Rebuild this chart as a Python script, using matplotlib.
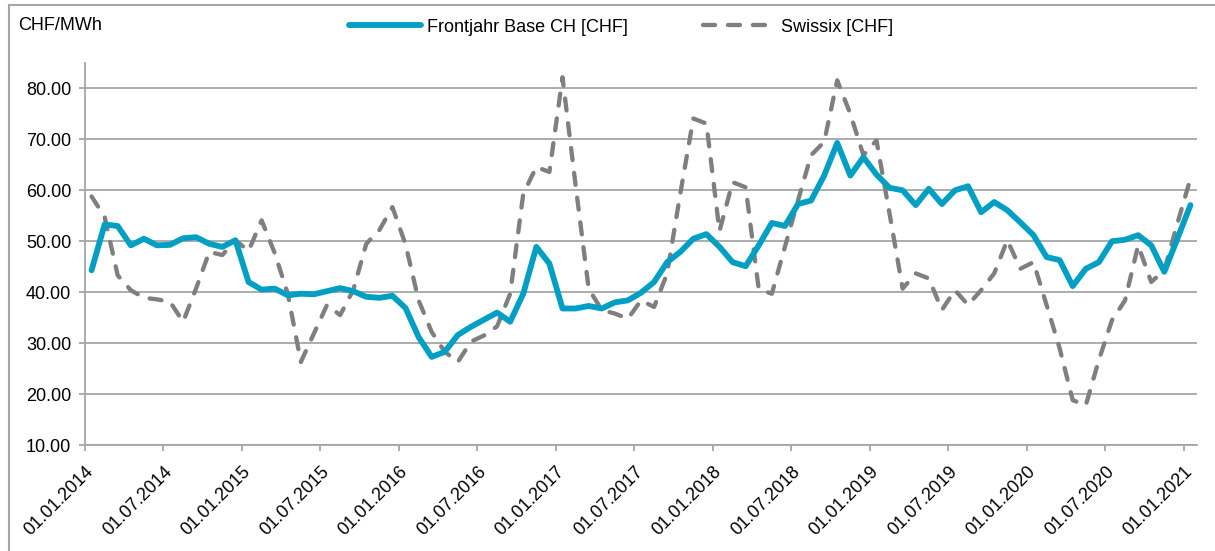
import matplotlib.pyplot as plt
import numpy as np
from matplotlib.lines import Line2D
from matplotlib.ticker import FormatStrFormatter

plt.rcParams['font.family'] = ['Liberation Sans', 'DejaVu Sans']

# monthly values, Jan 2014 .. Jan 2021 (plotted mid-month)
frontjahr = [44.3, 53.3, 53.0, 49.2, 50.5, 49.2, 49.3, 50.6, 50.8, 49.5, 48.9, 50.2,
             42.0, 40.5, 40.7, 39.4, 39.7, 39.6, 40.2, 40.8, 40.2, 39.1, 38.9, 39.3,
             36.9, 31.2, 27.3, 28.3, 31.6, 33.2, 34.6, 36.0, 34.2, 39.7, 48.9, 45.6,
             36.8, 36.8, 37.3, 36.8, 38.0, 38.4, 39.9, 42.0, 45.9, 47.9, 50.5, 51.4,
             48.9, 45.9, 45.1, 49.2, 53.6, 53.0, 57.3, 58.0, 62.9, 69.3, 62.9, 66.5,
             63.1, 60.5, 60.0, 57.1, 60.3, 57.3, 60.0, 60.8, 55.7, 57.7, 56.1, 53.7,
             51.2, 46.9, 46.3, 41.2, 44.6, 45.9, 50.0, 50.3, 51.2, 49.2, 44.0, 50.5,
             57.1]
swissix = [58.8, 54.8, 43.3, 40.4, 38.9, 38.6, 38.1, 34.2, 40.8, 47.9, 47.3, 50.2,
           48.1, 54.1, 47.7, 39.7, 26.3, 31.9, 37.5, 35.5, 40.4, 49.5, 52.2, 56.7,
           49.4, 38.4, 32.2, 28.3, 26.3, 30.3, 31.5, 33.3, 39.7, 59.3, 64.6, 63.6,
           82.2, 61.0, 40.7, 36.5, 35.8, 34.8, 38.4, 37.1, 43.7, 59.3, 74.1, 73.1,
           52.0, 61.6, 60.6, 40.6, 39.7, 48.9, 58.0, 66.9, 69.5, 81.6, 75.0, 66.9,
           69.8, 55.4, 40.7, 43.7, 42.7, 36.5, 40.4, 37.5, 40.4, 43.7, 50.2, 44.6,
           45.9, 37.5, 29.0, 18.8, 17.8, 26.7, 34.5, 38.4, 49.2, 42.0, 44.3, 53.5,
           62.3]
tick_labels = ['01.01.2014', '01.07.2014', '01.01.2015', '01.07.2015', '01.01.2016',
               '01.07.2016', '01.01.2017', '01.07.2017', '01.01.2018', '01.07.2018',
               '01.01.2019', '01.07.2019', '01.01.2020', '01.07.2020', '01.01.2021']

blue = '#009fc3'
grey = '#7f7f7f'
axcol = '#a6a6a6'

fig = plt.figure(figsize=(12.15, 5.51), dpi=100)
ax = fig.add_axes([85 / 1215, 106 / 551, 1112 / 1215, 382 / 551])

x = np.arange(len(frontjahr)) + 0.5
ax.plot(x, frontjahr, color=blue, lw=4.2, solid_joinstyle='round', solid_capstyle='round',
        label='Frontjahr Base CH [CHF]', zorder=3)
ax.plot(x, swissix, color=grey, lw=3.1, dashes=(2.8, 3.0), dash_capstyle='round',
        label='Swissix [CHF]', zorder=2)

ax.set_xlim(0, 85)
ax.set_ylim(10, 85)
ax.set_yticks(np.arange(10, 81, 10))
ax.yaxis.set_major_formatter(FormatStrFormatter('%.2f'))
ax.set_xticks(np.arange(0, 85, 6))
ax.set_xticklabels(tick_labels, rotation=45, ha='right', va='top', rotation_mode='anchor')
ax.grid(axis='y', color=axcol, lw=1.3)
ax.set_axisbelow(True)
for s in ['top', 'right']:
    ax.spines[s].set_visible(False)
for s in ['left', 'bottom']:
    ax.spines[s].set_color(axcol)
    ax.spines[s].set_linewidth(1.3)
ax.tick_params(axis='both', colors=axcol, labelcolor='black', labelsize=13, width=1.3)
ax.tick_params(axis='x', length=4, pad=9)
ax.tick_params(axis='y', length=4, pad=6)

fig.text(18 / 1215, 1 - 26 / 551, 'CHF/MWh', fontsize=13, va='center', ha='left')
fig.legend(loc='center', bbox_to_anchor=(621 / 1215, 1 - 27 / 551), ncol=2, frameon=False,
           fontsize=13, handlelength=4.0, handletextpad=0.3, columnspacing=4.2)

# outer frame (left and top edges visible)
fig.add_artist(Line2D([9 / 1215, 9 / 1215], [0, 1 - 5 / 551], color=axcol, lw=1.5))
fig.add_artist(Line2D([9 / 1215, 1], [1 - 5 / 551, 1 - 5 / 551], color=axcol, lw=1.5))

fig.savefig('out.png', dpi=100)
